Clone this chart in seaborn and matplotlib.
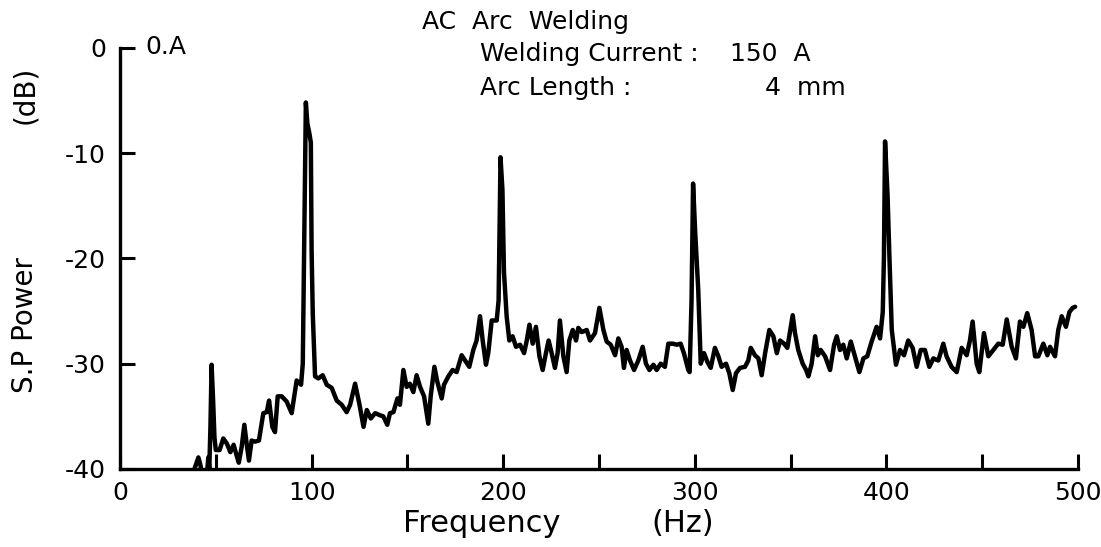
import numpy as np
import pandas as pd
import matplotlib
matplotlib.use("Agg")
import matplotlib.pyplot as plt
import seaborn as sns

# ---- data (Frequency in Hz, S.P Power in dB) ----
freq_hz = [
    38.5, 40.0, 40.9, 41.8, 42.6, 45.5, 46.1, 46.6, 47.2, 47.8, 48.6, 49.3, 50.0,
    52.0, 53.9, 55.8, 57.6, 59.3, 61.0, 62.0, 63.5, 64.9, 66.1, 67.3, 68.7, 70.5,
    72.5, 74.8, 76.6, 77.8, 79.5, 80.9, 82.3, 84.4, 87.0, 89.6, 92.2, 94.5, 95.4,
    96.2, 97.0, 97.8, 98.8, 99.6, 100.0, 100.6, 101.8, 103.5, 105.8, 107.9, 110.5,
    113.1, 115.7, 118.3, 120.1, 122.7, 124.9, 127.1, 128.8, 130.9, 133.2, 135.7,
    137.4, 139.5, 140.9, 142.7, 144.8, 146.1, 147.9, 149.6, 151.3, 153.1, 154.8,
    156.6, 158.7, 160.9, 162.2, 164.1, 165.6, 167.9, 169.1, 171.4, 173.6, 175.7,
    178.3, 180.1, 182.3, 184.4, 186.1, 187.9, 189.3, 191.0, 192.2, 194.0, 196.6,
    197.6, 198.6, 199.6, 200.4, 201.8, 203.2, 204.9, 206.7, 208.8, 210.9, 212.3,
    213.7, 215.4, 217.1, 218.9, 220.6, 222.3, 223.7, 225.3, 227.0, 228.4, 229.6,
    231.4, 233.1, 234.5, 236.3, 238.0, 239.2, 241.0, 243.6, 245.3, 247.9, 250.2,
    252.3, 254.0, 256.1, 258.4, 260.1, 261.8, 263.0, 264.4, 266.2, 268.3, 270.5,
    272.8, 274.5, 276.3, 278.4, 280.1, 282.2, 284.4, 286.2, 288.5, 290.6, 292.6,
    294.3, 296.6, 297.3, 298.3, 299.1, 300.2, 301.8, 303.1, 304.8, 306.5, 308.3,
    310.5, 312.3, 314.0, 316.3, 318.0, 319.8, 321.5, 323.6, 326.2, 327.9, 329.2,
    331.4, 333.2, 334.9, 336.7, 338.9, 341.0, 342.8, 344.5, 346.6, 348.3, 351.1,
    352.3, 354.0, 356.3, 358.1, 359.3, 361.0, 362.8, 364.2, 365.7, 368.0, 370.6,
    372.7, 374.1, 375.8, 377.5, 379.3, 381.4, 383.6, 385.9, 388.0, 390.0, 392.3,
    394.9, 396.7, 398.1, 398.7, 399.3, 400.6, 401.6, 402.8, 405.0, 407.1, 409.2,
    411.4, 413.7, 415.8, 417.9, 420.1, 422.4, 424.5, 427.1, 429.7, 431.4, 434.0,
    436.7, 439.3, 441.9, 443.6, 445.0, 447.1, 448.5, 450.9, 453.2, 455.8, 458.4,
    460.7, 462.8, 465.4, 467.6, 469.7, 471.5, 473.5, 475.8, 477.6, 479.3, 481.9,
    484.0, 485.4, 488.0, 489.7, 491.5, 493.7, 495.5, 497.2, 498.5,
]
power_db = [
    -40.2, -39.4, -38.9, -39.5, -40.2, -40.2, -38.9, -40.0, -36.0, -30.1, -33.5, -37.0, -38.2,
    -38.2, -37.1, -37.6, -38.4, -37.7, -38.8, -39.4, -37.9, -35.8, -37.6, -39.2, -37.3, -37.4,
    -37.3, -34.7, -34.6, -33.5, -36.0, -36.5, -33.1, -33.1, -33.6, -34.7, -31.6, -32.0, -30.0,
    -18.0, -5.2, -7.2, -8.1, -9.0, -19.2, -25.2, -31.2, -31.4, -31.1, -32.0, -32.3,
    -33.5, -33.9, -34.6, -33.9, -31.9, -33.8, -36.0, -34.4, -35.2, -34.7, -34.9,
    -35.0, -35.8, -34.7, -34.6, -33.3, -33.9, -30.6, -32.2, -31.9, -32.7, -31.1,
    -32.2, -33.1, -35.7, -33.0, -30.3, -31.7, -33.3, -32.0, -31.2, -30.6, -30.8,
    -29.2, -29.7, -30.3, -28.7, -27.8, -25.5, -27.8, -30.1, -29.0, -25.9, -25.9,
    -24.0, -10.4, -13.5, -21.3, -25.5, -27.8, -27.4, -28.4, -28.2, -29.0, -27.8,
    -26.3, -28.1, -26.5, -29.3, -30.6, -29.0, -27.8, -29.0, -30.4, -29.0, -25.9,
    -29.3, -30.8, -27.8, -26.8, -27.8, -26.6, -27.0, -26.8, -27.8, -27.1, -24.7,
    -26.8, -27.9, -28.2, -29.2, -27.6, -28.4, -30.4, -28.7, -29.7, -30.6, -29.7,
    -28.4, -30.0, -30.6, -30.1, -30.6, -30.0, -30.3, -28.1, -28.1, -28.2, -28.1,
    -29.0, -30.6, -30.8, -24.0, -12.9, -17.5, -23.0, -30.0, -29.0, -29.8, -30.4,
    -28.5, -29.3, -30.3, -30.0, -30.9, -32.5, -30.9, -30.4, -30.3, -29.7, -28.5,
    -29.2, -29.5, -31.1, -29.0, -26.8, -27.4, -29.0, -27.8, -28.1, -28.5, -25.4,
    -27.1, -28.7, -30.0, -30.6, -31.2, -30.0, -27.4, -29.2, -28.7, -29.3, -30.6,
    -28.2, -27.4, -28.7, -28.2, -29.5, -27.9, -29.3, -30.8, -29.5, -29.3, -27.9,
    -26.5, -27.6, -25.1, -20.0, -8.9, -14.0, -20.0, -26.8, -30.1, -28.7, -29.2,
    -27.8, -28.5, -30.3, -28.7, -28.7, -30.3, -29.5, -29.7, -28.1, -29.3, -30.3,
    -30.8, -28.5, -29.2, -27.8, -26.0, -30.0, -30.8, -27.1, -29.3, -28.7, -28.1,
    -28.2, -25.8, -28.4, -29.5, -26.0, -26.5, -25.2, -26.8, -29.3, -29.3, -28.1,
    -29.2, -28.4, -29.3, -26.8, -25.5, -26.5, -25.1, -24.7, -24.6,
]
x_ticks_major = [0, 100, 200, 300, 400, 500]
x_ticks_minor = [50, 150, 250, 350, 450]
y_ticks = [0, -10, -20, -30, -40]

title_line = "AC  Arc  Welding"
current_label, current_value = "Welding Current :", "150  A"
length_label, length_value = "Arc Length :", "4  mm"

# ---- styling ----
sns.set_style("ticks")
plt.rcParams["font.family"] = ["DejaVu Sans"]
plt.rcParams["axes.unicode_minus"] = False

W, H = 1101, 547
fig = plt.figure(figsize=(W / 100, H / 100), dpi=100)
ax = fig.add_axes([120 / W, 1 - 469 / H, (1078 - 120) / W, (469 - 47.7) / H])

df = pd.DataFrame({"Frequency": freq_hz, "Power": power_db})
sns.lineplot(data=df, x="Frequency", y="Power", ax=ax, color="black",
             linewidth=3.2, sort=False, estimator=None, clip_on=True)

ax.set_xlim(0, 500)
ax.set_ylim(-40, 0)
ax.set_xticks(x_ticks_major)
ax.set_xticks(x_ticks_minor, minor=True)
ax.set_yticks(y_ticks)
ax.set_yticklabels([str(v) for v in y_ticks])
ax.tick_params(axis="both", which="both", direction="in", width=2.2,
               color="black", labelsize=18, labelcolor="black")
ax.tick_params(axis="x", which="both", length=11, pad=9)
ax.tick_params(axis="y", which="both", length=11, pad=10)
for s in ["top", "right"]:
    ax.spines[s].set_visible(False)
for s in ["left", "bottom"]:
    ax.spines[s].set_linewidth(2.4)
    ax.spines[s].set_color("black")
ax.set_xlabel("")
ax.set_ylabel("")

def ft(px, py, s, **kw):
    fig.text(px / W, 1 - py / H, s, color="black", **kw)

ft(145, 47, "0.A", fontsize=18, va="center", ha="left")
ft(422, 22, title_line, fontsize=18, va="center", ha="left")
ft(480, 54, current_label, fontsize=18, va="center", ha="left")
ft(730, 54, current_value, fontsize=18, va="center", ha="left")
ft(480, 88, length_label, fontsize=18, va="center", ha="left")
ft(765, 88, length_value, fontsize=18, va="center", ha="left")

ft(25, 95, "(dB)", fontsize=20, rotation=90, va="center", ha="center")
ft(25, 325, "S.P Power", fontsize=20, rotation=90, va="center", ha="center")
ft(482, 524, "Frequency", fontsize=22, va="center", ha="center")
ft(683, 524, "(Hz)", fontsize=22, va="center", ha="center")

fig.savefig("out.png", dpi=100, facecolor="white")
